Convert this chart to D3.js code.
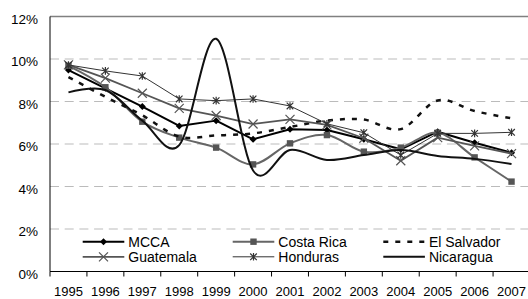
<!DOCTYPE html>
<html><head><meta charset="utf-8">
<script src="https://cdn.jsdelivr.net/npm/d3@7"></script>
<style>body{margin:0;background:#fff}svg{display:block;font-family:"Liberation Sans",Arial,sans-serif}</style>
</head><body><svg id="c" width="528" height="299"></svg>
<script>
const years = ["1995","1996","1997","1998","1999","2000","2001","2002","2003","2004","2005","2006","2007"];
const mcca       = [9.48, 8.62, 7.76, 6.85, 7.10, 6.22, 6.69, 6.66, 6.22, 5.75, 6.58, 6.06, 5.59];
const costaRica  = [9.68, 8.67, 7.05, 6.30, 5.83, 5.04, 6.03, 6.42, 5.64, 5.83, 6.53, 5.37, 4.23];
const elSalvador = [9.15, 8.22, 7.35, 6.35, 6.40, 6.50, 6.80, 7.10, 7.15, 6.70, 8.05, 7.55, 7.21];
const guatemala  = [9.72, 9.10, 8.39, 7.68, 7.34, 6.94, 7.16, 6.90, 6.27, 5.21, 6.30, 5.91, 5.55];
const honduras   = [9.72, 9.44, 9.20, 8.12, 8.04, 8.12, 7.79, 6.95, 6.53, 5.48, 6.50, 6.50, 6.55];
const nicaragua  = [8.43, 8.54, 7.10, 5.95, 10.95, 4.75, 5.72, 5.25, 5.48, 5.72, 5.44, 5.30, 5.06];
const yTicks = [0, 2, 4, 6, 8, 10, 12];

const series = [
  {name:"MCCA", values:mcca, color:"#000", width:2, smooth:false, marker:"diamond", mcolor:"#000"},
  {name:"Costa Rica", values:costaRica, color:"#666", width:2, smooth:true, marker:"square", mcolor:"#555"},
  {name:"El Salvador", values:elSalvador, color:"#111", width:2.5, smooth:true, dash:"5,7", marker:null},
  {name:"Guatemala", values:guatemala, color:"#555", width:1.8, smooth:false, marker:"x", mcolor:"#555"},
  {name:"Honduras", values:honduras, color:"#333", width:1, smooth:false, marker:"star", mcolor:"#333"},
  {name:"Nicaragua", values:nicaragua, color:"#111", width:2, smooth:true, marker:null}
];

const svg = d3.select("#c");
const L = 50, R = 530, T = 16.5, B = 271.5;
const x = d3.scaleBand().domain(years).range([L, R]).padding(0);
const y = d3.scaleLinear().domain([0, 12]).range([B, T]);
const cx = d => x(d) + x.bandwidth() / 2;

// gridlines
svg.append("g").selectAll("line").data(yTicks.filter(t => t > 0 && t < 12)).join("line")
  .attr("x1", L).attr("x2", R).attr("y1", d => y(d)).attr("y2", d => y(d))
  .attr("stroke", "#bbb").attr("stroke-width", 1).attr("stroke-dasharray", "9,5.7");
svg.append("line").attr("x1", L).attr("x2", R).attr("y1", y(12)).attr("y2", y(12))
  .attr("stroke", "#808080").attr("stroke-width", 1.3);

// axes
const ya = svg.append("g").attr("transform", `translate(${L},0)`)
  .call(d3.axisLeft(y).tickValues(yTicks).tickFormat(d => d + "%").tickSize(0).tickPadding(12));
ya.select(".domain").remove();
ya.selectAll("text").attr("font-size", 13.5).attr("dy", "0.5em").attr("fill", "#000").attr("font-family", "Liberation Sans, Arial, sans-serif");
svg.append("line").attr("x1", L).attr("x2", L).attr("y1", T).attr("y2", B).attr("stroke", "#000").attr("stroke-width", 1);

const xa = svg.append("g").attr("transform", `translate(0,${B})`)
  .call(d3.axisBottom(x).tickSize(0).tickPadding(15.5));
xa.select(".domain").remove();
xa.selectAll("text").attr("font-size", 13).attr("fill", "#000").attr("font-family", "Liberation Sans, Arial, sans-serif");
svg.append("line").attr("x1", L).attr("x2", R).attr("y1", B).attr("y2", B).attr("stroke", "#000").attr("stroke-width", 1);
svg.append("g").selectAll("line").data(years).join("line")
  .attr("x1", d => x(d)).attr("x2", d => x(d)).attr("y1", B).attr("y2", B + 5)
  .attr("stroke", "#000").attr("stroke-width", 1);

function drawMarker(g, type, px, py, col) {
  if (type === "diamond") {
    g.append("path").attr("d", `M${px},${py-3.5}L${px+3.5},${py}L${px},${py+3.5}L${px-3.5},${py}Z`).attr("fill", col);
  } else if (type === "square") {
    g.append("rect").attr("x", px-3.2).attr("y", py-3.2).attr("width", 6.4).attr("height", 6.4).attr("fill", col);
  } else if (type === "x") {
    const s = 4.5;
    g.append("path").attr("d", `M${px-s},${py-s}L${px+s},${py+s}M${px-s},${py+s}L${px+s},${py-s}`)
      .attr("stroke", col).attr("stroke-width", 1.2).attr("fill", "none");
  } else if (type === "star") {
    const s = 3.3;
    g.append("path").attr("d", `M${px-s},${py-s}L${px+s},${py+s}M${px-s},${py+s}L${px+s},${py-s}M${px},${py-s-0.5}L${px},${py+s+0.5}`)
      .attr("stroke", col).attr("stroke-width", 1.2).attr("fill", "none");
  }
}

series.forEach(s => {
  const line = d3.line().x((d, i) => cx(years[i])).y(d => y(d))
    .curve(s.smooth ? d3.curveCardinal.tension(0) : d3.curveLinear);
  const g = svg.append("g");
  g.append("path").attr("d", line(s.values)).attr("fill", "none")
    .attr("stroke", s.color).attr("stroke-width", s.width)
    .attr("stroke-dasharray", s.dash || null).attr("stroke-linejoin", "round");
  if (s.marker) s.values.forEach((v, i) => drawMarker(g, s.marker, cx(years[i]), y(v), s.mcolor));
});

// legend
const legPos = [
  {lx:82.7, ly:241.7}, {lx:232.7, ly:241.7}, {lx:383.3, ly:241.7},
  {lx:82.7, ly:256.8}, {lx:232.7, ly:256.8}, {lx:383.3, ly:256.8}
];
series.forEach((s, i) => {
  const p = legPos[i];
  const g = svg.append("g");
  g.append("line").attr("x1", p.lx).attr("x2", p.lx + 41.6).attr("y1", p.ly).attr("y2", p.ly)
    .attr("stroke", s.color).attr("stroke-width", s.width).attr("stroke-dasharray", s.dash || null);
  if (s.marker) drawMarker(g, s.marker, p.lx + 20.8, p.ly, s.mcolor);
  g.append("text").attr("x", p.lx + 45.6).attr("y", p.ly + 5).attr("font-size", 14).text(s.name);
});
</script></body></html>
